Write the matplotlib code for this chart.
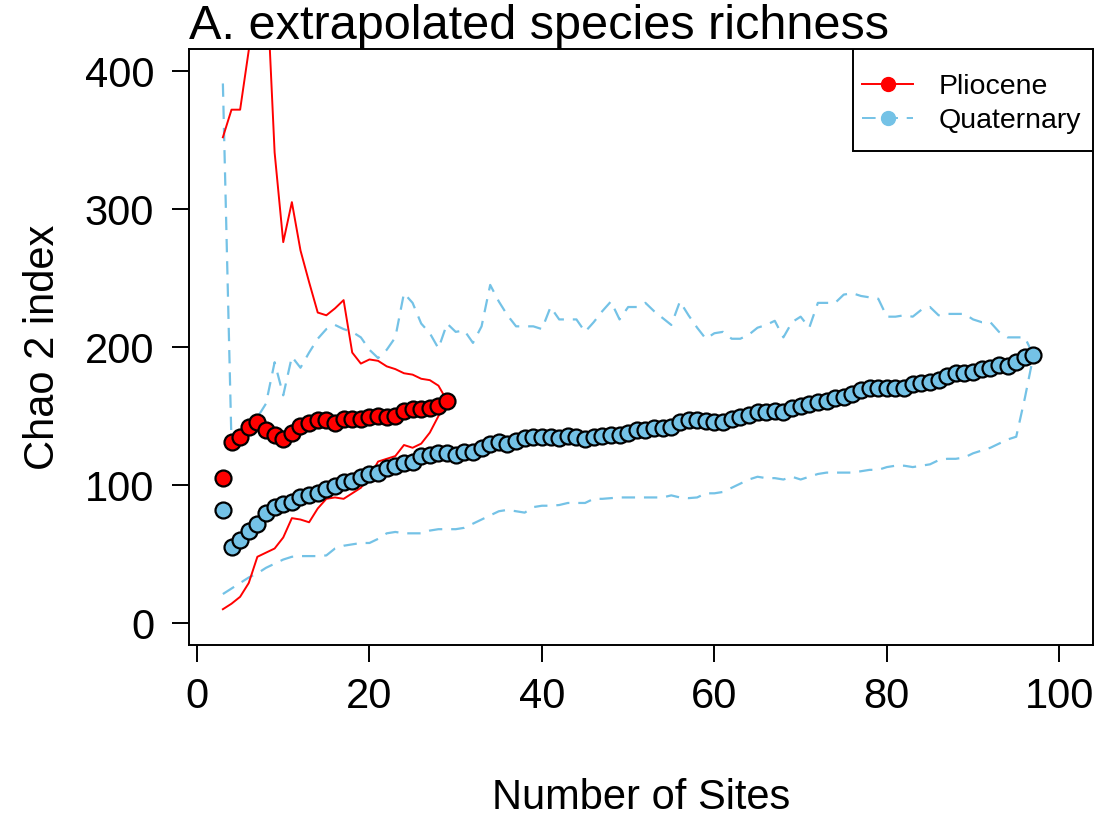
import numpy as np
import matplotlib
matplotlib.use("Agg")
import matplotlib.pyplot as plt
from matplotlib.lines import Line2D
from matplotlib.patches import Rectangle

plt.rcParams['font.family'] = ['Liberation Sans', 'DejaVu Sans']

# Pliocene (sites 3..29)
plio_x = list(range(3, 30))
plio_mean = [105, 131, 135, 142, 146, 140, 136, 133, 138, 143, 145, 147, 147, 145,
             148, 148, 148, 149, 150, 149, 150, 154, 155, 155, 156, 157, 161]
plio_upper = [352, 372, 372, 415, 500, 476, 341, 276, 305, 270, 247, 225, 223, 228,
              234, 196, 188, 191, 190, 186, 184, 181, 180, 177, 176, 172, 161]
plio_lower = [10, 14, 19, 29, 48, 51, 54, 62, 76, 75, 73, 83, 90, 91,
              90, 94, 98, 106, 117, 119, 121, 129, 127, 130, 138, 150, 161]

# Quaternary (sites 3..97)
quat_x = list(range(3, 98))
quat_mean = [82, 55, 60, 67, 72, 80, 84, 86, 88, 91, 93, 94, 97, 99, 102, 103, 106, 108,
             109, 112, 114, 116, 117, 121, 122, 123, 123, 122, 124, 124, 127, 130, 131, 130,
             132, 134, 135, 135, 135, 134, 135.5, 135, 133, 135, 135.5, 136, 136, 138, 140,
             140, 141, 141, 142, 146, 147, 147, 146.5, 146, 146, 148, 149, 151, 153, 153,
             154, 153, 156, 157, 159, 160, 161, 163, 164, 166, 169, 170, 170, 170, 170, 170,
             173, 174, 175, 176, 179, 181, 181, 182, 184, 185, 187, 186, 189, 193, 194]
quat_upper = [391, 130, 135, 141, 149, 159, 189, 165, 193, 185, 196, 206, 213, 216, 213,
              211, 207, 198, 192, 198, 207, 239, 232, 217, 210, 199, 217, 211, 212, 203,
              215, 245, 233, 223, 215, 215, 215, 213, 229, 220, 220, 220, 211, 218, 226,
              233, 220, 229, 229, 232, 226, 221, 216, 233, 223, 214, 206, 210, 211, 206,
              206, 209, 214, 216, 219, 207, 218, 222, 214, 232, 232, 232, 238, 239, 237,
              236, 235, 222, 222, 223, 222, 227, 229, 223, 224, 224, 224, 220, 218, 218,
              211, 207, 207, 207, 194]
quat_lower = [21, 25, 29, 33, 36, 40, 43, 46, 48, 48.5, 48.5, 48.5, 49, 54, 56, 57, 58, 58,
              61, 65, 66, 65, 65, 65, 67, 68, 68, 68, 69, 72, 75, 78, 81, 82, 81, 80, 84,
              85, 85, 85.5, 87, 87, 87, 90, 90, 90.5, 91, 91, 91, 91, 91, 91, 92.5, 91,
              90.5, 91, 94, 94, 95, 98, 101, 104, 106, 105, 105, 104, 106, 104, 106, 108,
              109, 109, 109, 109, 110, 111, 111, 113, 114, 114, 113, 114, 115, 118, 119,
              119, 120, 123, 125, 127, 130, 133, 135, 163, 194]

red = '#FF0000'
blue = '#74C2E6'

fig = plt.figure(figsize=(11.13, 8.16), dpi=100)
ax = fig.add_axes([0.1698, 0.2096, 0.8122, 0.7304])

dash = (0, (6, 4))
ax.plot(quat_x, quat_upper, color=blue, lw=1.6, linestyle=dash)
ax.plot(quat_x, quat_lower, color=blue, lw=1.6, linestyle=dash)
ax.plot(plio_x, plio_upper, color=red, lw=1.4)
ax.plot(plio_x, plio_lower, color=red, lw=1.4)

ax.plot(quat_x, quat_mean, 'o', color=blue, mec='black', mew=1.6, ms=11.5, ls='none')
ax.plot(plio_x, plio_mean, 'o', color=red, mec='black', mew=1.6, ms=11.5, ls='none')

ax.set_xlim(-0.93, 103.9)
ax.set_ylim(-15.9, 416)
ax.set_xticks([0, 20, 40, 60, 80, 100])
ax.set_yticks([0, 100, 200, 300, 400])
ax.tick_params(direction='out', length=12, width=1.4, labelsize=30)
ax.tick_params(axis='x', pad=11)
ax.tick_params(axis='y', pad=13)
for s in ax.spines.values():
    s.set_linewidth(1.4)

ax.set_xlabel("Number of Sites", fontsize=30, labelpad=44)
ax.set_ylabel("Chao 2 index", fontsize=30, labelpad=16)
ax.set_title("A. extrapolated species richness", fontsize=35, loc='left', pad=-2)

# legend box drawn separately (R style: more vertical padding)
ax.add_patch(Rectangle((0.7345, 0.829), 0.2655, 0.171, transform=ax.transAxes,
                       facecolor='white', edgecolor='black', lw=1.4, zorder=5))
handles = [Line2D([], [], color=red, lw=1.4, marker='o', ms=10, mec=red),
           Line2D([], [], color=blue, lw=1.4, ls=(0, (7, 4.5)), marker='o', ms=10, mec=blue)]
leg = ax.legend(handles, ["Pliocene", "Quaternary"], loc='upper right', fontsize=20.5,
                frameon=False, bbox_to_anchor=(1.0044, 0.985), borderaxespad=0,
                handlelength=1.8, handletextpad=0.9, borderpad=0.55,
                labelspacing=0.3)
leg.set_zorder(6)

fig.savefig("out.png", dpi=100)
